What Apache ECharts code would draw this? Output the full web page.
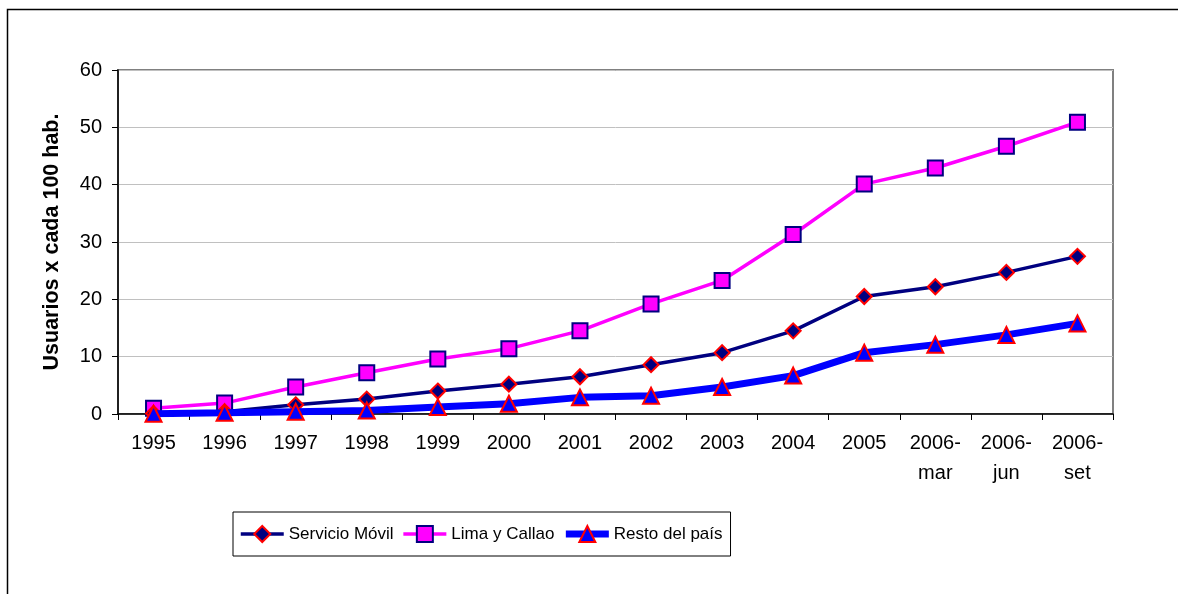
<!DOCTYPE html>
<html>
<head>
<meta charset="utf-8">
<script src="https://cdn.jsdelivr.net/npm/echarts@6/dist/echarts.min.js"></script>
<style>
html,body{margin:0;padding:0;background:#fff;}
#chart{width:1178px;height:594px;}
</style>
</head>
<body>
<div id="chart"></div>
<script>
var categories = ['1995','1996','1997','1998','1999','2000','2001','2002','2003','2004','2005','2006-\nmar','2006-\njun','2006-\nset'];
var servicioMovil = [0.1, 0.4, 1.6, 2.6, 4.0, 5.2, 6.5, 8.6, 10.7, 14.5, 20.5, 22.2, 24.7, 27.5];
var limaCallao = [1.0, 1.9, 4.7, 7.2, 9.6, 11.4, 14.5, 19.2, 23.3, 31.3, 40.1, 42.9, 46.7, 50.9];
var restoPais = [0.05, 0.2, 0.4, 0.6, 1.2, 1.8, 2.9, 3.2, 4.7, 6.7, 10.7, 12.1, 13.8, 15.8];
var yTicks = [0, 10, 20, 30, 40, 50, 60];
var seriesNames = ['Servicio Móvil', 'Lima y Callao', 'Resto del país'];

var chart = echarts.init(document.getElementById('chart'), null, {renderer: 'canvas'});
var font = 'Arial, "Liberation Sans", sans-serif';
chart.setOption({
  animation: false,
  backgroundColor: '#fff',
  graphic: [{
    type: 'rect',
    shape: {x: 7.5, y: 9.5, width: 1200, height: 700},
    style: {fill: null, stroke: '#000', lineWidth: 1.5},
    silent: true,
    z: -1
  }],
  grid: {
    left: 118, top: 70, width: 995, height: 344,
    show: true, borderColor: '#808080', borderWidth: 2, backgroundColor: '#fff'
  },
  legend: {
    left: 233, top: 512,
    orient: 'horizontal',
    borderColor: '#000', borderWidth: 1,
    padding: [13, 8, 13, 6],
    itemWidth: 43, itemHeight: 20, itemGap: 8,
    textStyle: {fontFamily: font, fontSize: 17, color: '#000'},
    data: [
      {name: seriesNames[0], lineStyle: {width: 3.5}},
      {name: seriesNames[1], lineStyle: {width: 3.5}},
      {name: seriesNames[2], lineStyle: {width: 7}}
    ]
  },
  xAxis: {
    type: 'category',
    data: categories,
    boundaryGap: true,
    axisLine: {show: true, lineStyle: {color: '#000', width: 1.5}},
    axisTick: {show: true, interval: 0, length: 6, inside: false, lineStyle: {color: '#000'}},
    axisLabel: {interval: 0, fontFamily: font, fontSize: 20, color: '#000', lineHeight: 30, margin: 14},
    splitLine: {show: false}
  },
  yAxis: {
    type: 'value',
    min: yTicks[0], max: yTicks[yTicks.length - 1], interval: 10,
    name: 'Usuarios x cada 100 hab.',
    nameLocation: 'middle',
    nameGap: 55,
    nameRotate: 90,
    nameTextStyle: {fontFamily: font, fontSize: 21.5, fontWeight: 'bold', color: '#000'},
    axisLine: {show: true, lineStyle: {color: '#000', width: 1.5}},
    axisTick: {show: true, length: 6, inside: false, lineStyle: {color: '#000'}},
    axisLabel: {fontFamily: font, fontSize: 20, color: '#000', margin: 16},
    splitLine: {show: true, lineStyle: {color: '#c0c0c0', width: 1}}
  },
  series: [
    {
      name: seriesNames[0], type: 'line', data: servicioMovil,
      symbol: 'diamond', symbolSize: 15,
      lineStyle: {color: '#000080', width: 3.5},
      itemStyle: {color: '#000080', borderColor: '#ff0000', borderWidth: 2},
      z: 3
    },
    {
      name: seriesNames[1], type: 'line', data: limaCallao,
      symbol: 'rect', symbolSize: 15,
      lineStyle: {color: '#ff00ff', width: 3.5},
      itemStyle: {color: '#ff00ff', borderColor: '#000080', borderWidth: 2},
      z: 2
    },
    {
      name: seriesNames[2], type: 'line', data: restoPais,
      symbol: 'triangle', symbolSize: 16,
      lineStyle: {color: '#0000ff', width: 7},
      itemStyle: {color: '#0000ff', borderColor: '#ff0000', borderWidth: 2},
      z: 4
    }
  ]
});
</script>
</body>
</html>
